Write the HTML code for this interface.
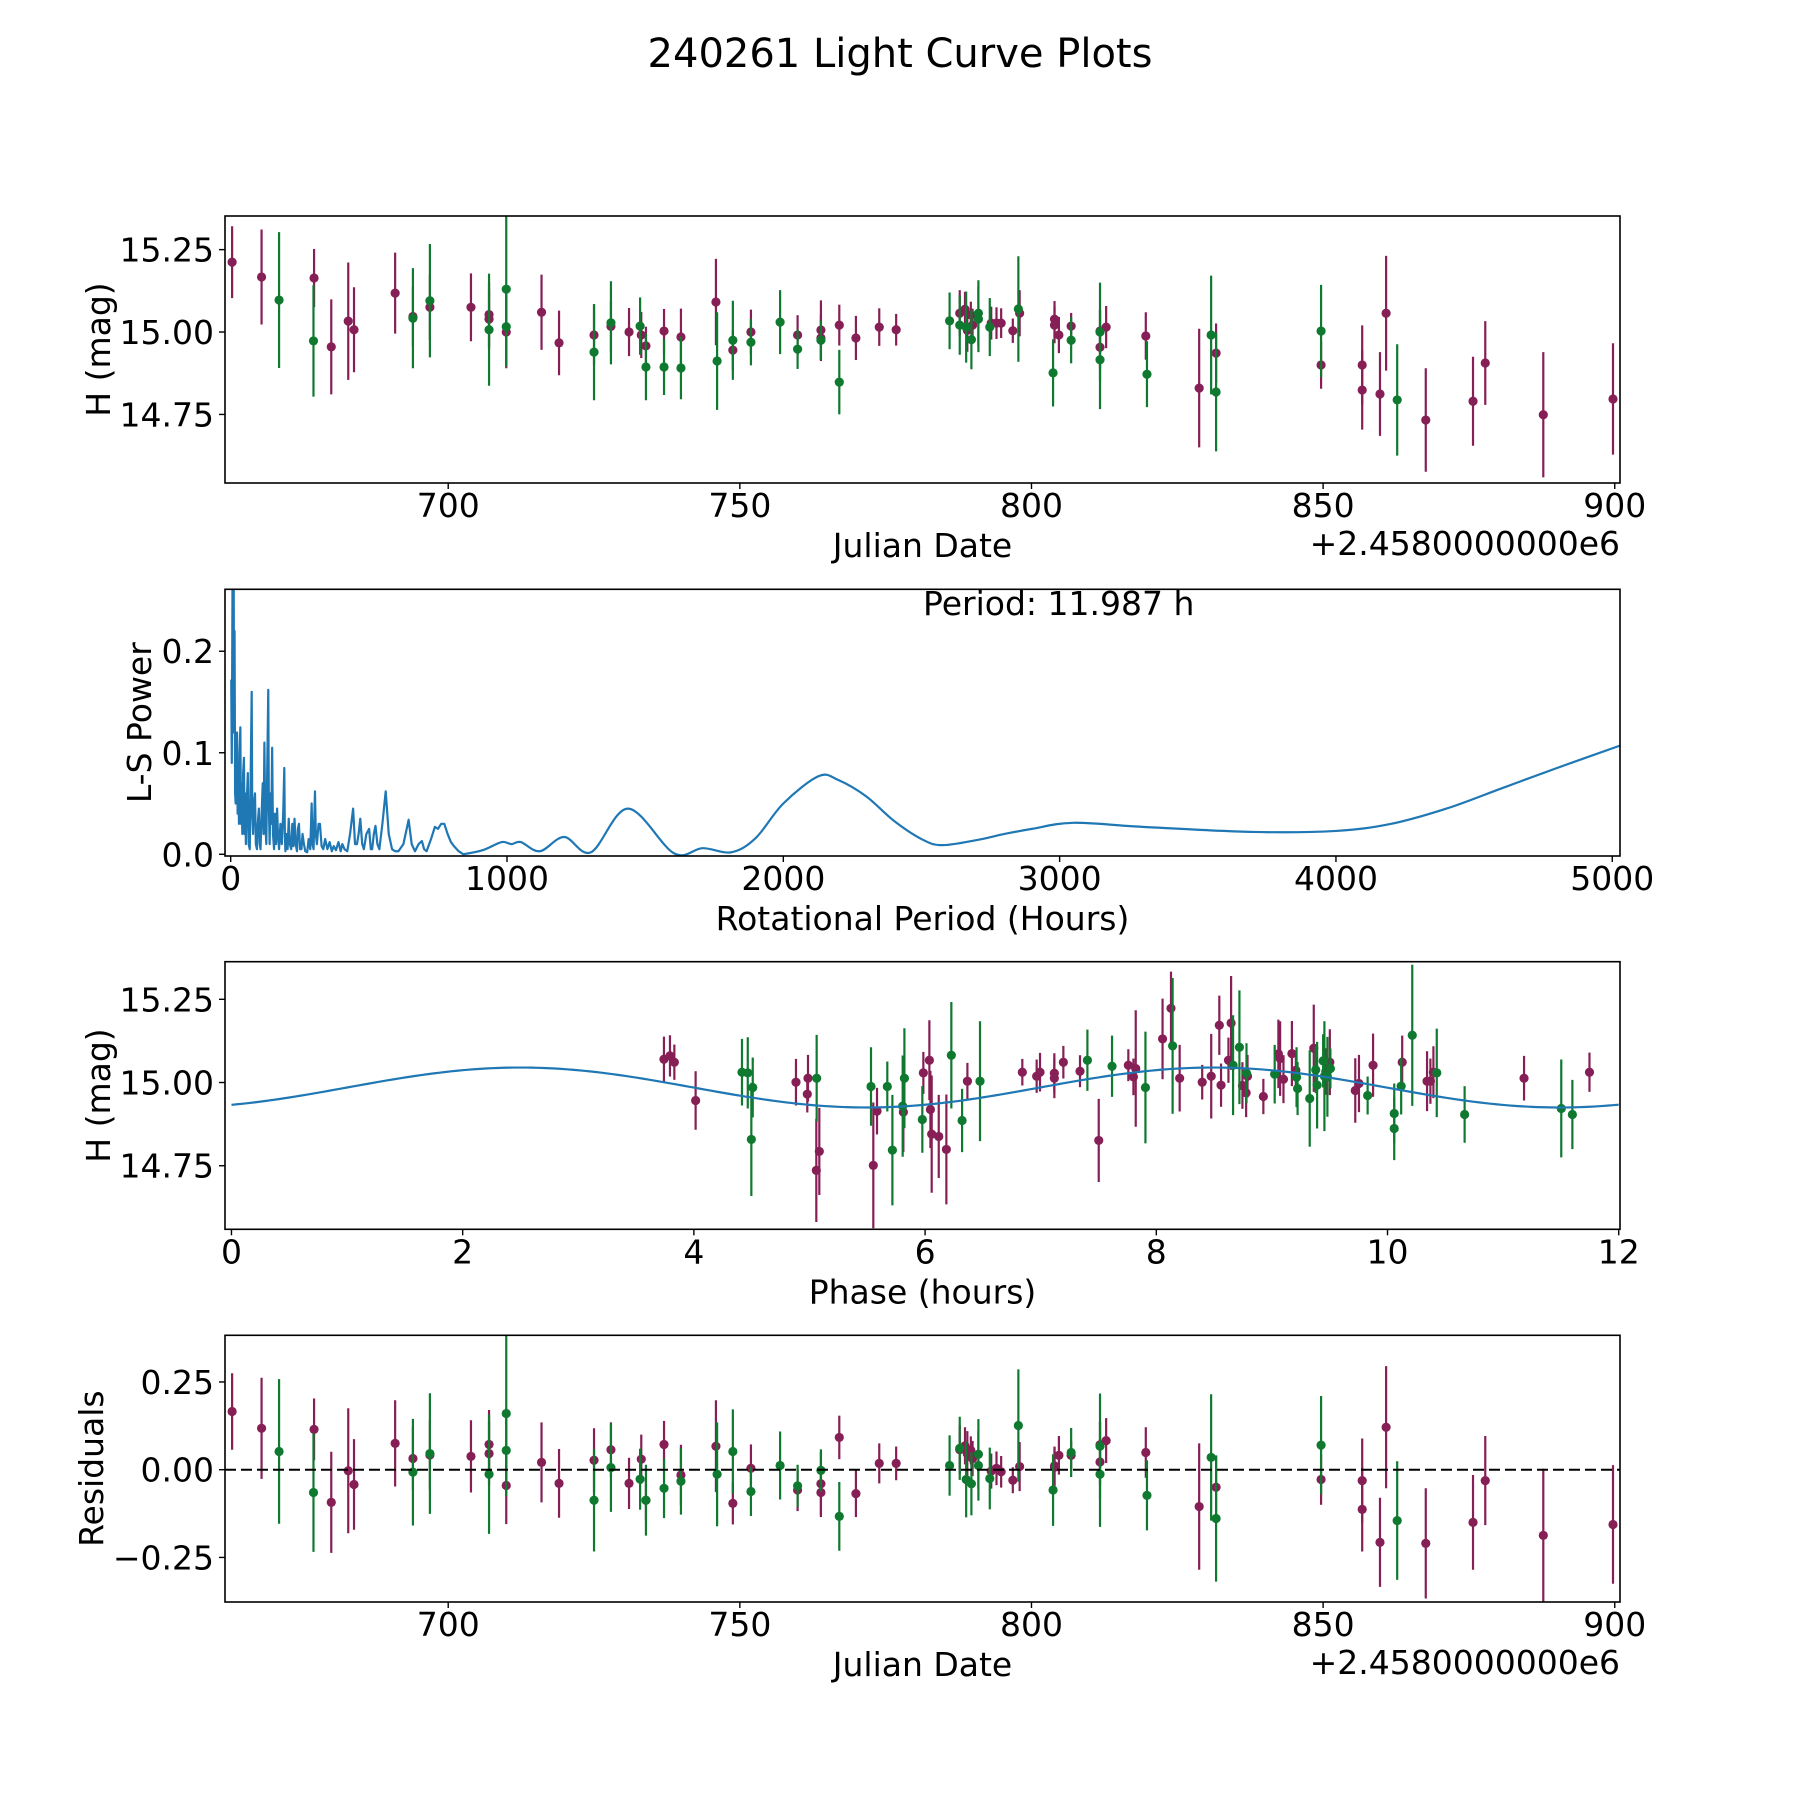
<!DOCTYPE html>
<html><head><meta charset="utf-8">
<style>
html,body{margin:0;padding:0;background:#fff;}
svg{display:block;font-family:"DejaVu Sans","Liberation Sans",sans-serif;}
</style></head>
<body>
<svg id="fig" width="1800" height="1800" viewBox="0 0 1800 1800" xmlns="http://www.w3.org/2000/svg">
<rect width="1800" height="1800" fill="#fff"/>
<text x="900" y="67" font-size="40" text-anchor="middle">240261 Light Curve Plots</text>
</svg>
<script>
// ---- Panel 1 / 4 data (Julian Date offsets from 2458000) ----
const jdP  = [662.95,668.0,677.0,679.95,682.86,683.85,690.9,693.95,696.86,703.9,707.0,707.0,709.95,716.0,719.0,725.0,727.9,731.0,733.1,733.9,737.0,739.9,745.9,748.8,751.9,759.9,763.9,763.9,767.05,769.9,773.9,776.8,787.7,788.6,789.0,789.6,789.9,793.1,794.0,794.8,796.8,797.97,803.95,803.95,804.7,806.8,811.75,811.75,812.8,819.6,828.75,831.65,849.65,856.7,856.7,859.75,860.8,867.6,875.7,877.8,887.75,899.7];
const magP = [15.212,15.167,15.164,14.955,15.033,15.007,15.118,15.047,15.075,15.075,15.053,15.039,15.0,15.060,14.967,14.991,15.017,15.0,14.991,14.958,15.003,14.985,15.091,14.945,15.0,14.991,15.006,14.982,15.021,14.982,15.015,15.007,15.057,15.069,15.005,15.052,15.021,15.027,15.027,15.027,15.004,15.057,15.039,15.021,14.991,15.018,15.003,14.954,15.015,14.988,14.83,14.936,14.9,14.9,14.824,14.812,15.057,14.733,14.79,14.906,14.749,14.797];
const errP = [0.109,0.144,0.088,0.144,0.178,0.129,0.123,0.090,0.099,0.103,0.098,0.09,0.110,0.114,0.098,0.091,0.078,0.073,0.07,0.058,0.067,0.086,0.131,0.06,0.068,0.06,0.09,0.07,0.062,0.067,0.057,0.048,0.07,0.053,0.065,0.04,0.05,0.05,0.048,0.045,0.037,0.07,0.055,0.055,0.055,0.04,0.065,0.065,0.064,0.072,0.18,0.09,0.072,0.12,0.12,0.127,0.174,0.157,0.135,0.127,0.19,0.169];
const resP = [0.166,0.118,0.115,-0.093,-0.003,-0.042,0.075,0.032,0.042,0.038,0.072,0.046,-0.045,0.021,-0.039,0.027,0.057,-0.039,0.030,-0.087,0.072,-0.015,0.067,-0.096,0.004,-0.058,-0.040,-0.065,0.092,-0.068,0.018,0.018,0.057,0.068,0.045,0.055,0.032,-0.004,0.004,-0.006,-0.030,0.009,0.011,0.007,0.041,0.041,0.071,0.022,0.083,0.049,-0.105,-0.050,-0.028,-0.031,-0.113,-0.207,0.121,-0.210,-0.150,-0.031,-0.187,-0.156];
const jdG  = [671.0,676.9,693.95,696.86,707.0,709.95,709.95,725.0,727.9,732.9,733.9,737.0,739.9,746.1,748.8,751.9,756.9,759.9,763.9,767.05,785.96,787.7,788.8,789.7,790.9,790.9,792.85,797.75,803.7,806.8,811.75,811.75,819.8,830.8,831.65,849.65,862.7];
const magG = [15.097,14.973,15.042,15.095,15.007,15.130,15.016,14.939,15.028,15.018,14.894,14.894,14.891,14.912,14.975,14.969,15.03,14.948,14.975,14.848,15.034,15.021,15.015,14.977,15.057,15.039,15.015,15.07,14.876,14.975,15.0,14.916,14.872,14.991,14.818,15.003,14.794];
const errG = [0.206,0.169,0.152,0.172,0.170,0.235,0.12,0.146,0.126,0.087,0.101,0.085,0.095,0.148,0.12,0.07,0.097,0.06,0.06,0.098,0.086,0.09,0.108,0.09,0.1,0.1,0.088,0.16,0.102,0.07,0.15,0.15,0.1,0.18,0.18,0.14,0.169];
const resG = [0.052,-0.065,-0.007,0.046,-0.013,0.160,0.055,-0.087,0.006,-0.027,-0.087,-0.053,-0.033,-0.013,0.052,-0.062,0.012,-0.046,-0.002,-0.133,0.012,0.061,-0.028,-0.040,0.044,0.012,-0.025,0.126,-0.058,0.049,0.067,-0.013,-0.073,0.035,-0.139,0.070,-0.145];

// ---- Panel 2: Lomb-Scargle periodogram ----
const lsPeriod = [2,4,7,9,11,12,14,16,18,20,23,25,27,30,32,35,37,39,42,45,48,50,52,55,58,62,65,69,72,76,78,81,84,88,91,95,98,102,105,108,112,116,119,122,125,129,132,136,138,141,144,147,150,153,157,160,164,168,171,175,180,185,190,194,196,198,202,206,210,214,219,223,227,231,235,240,243,247,251,256,260,265,270,277,282,288,293,296,300,305,308,312,318,323,329,335,342,350,358,366,373,381,390,398,404,412,422,432,443,450,457,463,469,476,482,491,501,507,512,518,524,531,538,549,561,572,584,595,607,625,644,655,667,680,692,700,709,725,739,750,762,773,785,797,808,825,842];
const lsPower  = [0.172,0.09,0.30,0.12,0.26,0.14,0.22,0.06,0.05,0.11,0.12,0.04,0.09,0.03,0.10,0.125,0.03,0.07,0.02,0.08,0.095,0.02,0.06,0.01,0.05,0.08,0.01,0.005,0.07,0.16,0.04,0.02,0.05,0.06,0.01,0.005,0.03,0.045,0.01,0.005,0.04,0.07,0.02,0.11,0.03,0.01,0.08,0.162,0.05,0.01,0.06,0.03,0.105,0.02,0.005,0.04,0.01,0.045,0.02,0.005,0.03,0.01,0.04,0.085,0.02,0.003,0.02,0.005,0.035,0.01,0.005,0.03,0.008,0.035,0.01,0.003,0.025,0.03,0.005,0.005,0.02,0.01,0.003,0.002,0.015,0.005,0.05,0.01,0.005,0.062,0.02,0.01,0.03,0.03,0.008,0.005,0.015,0.005,0.012,0.003,0.008,0.004,0.012,0.003,0.01,0.005,0.003,0.02,0.045,0.01,0.01,0.02,0.035,0.01,0.005,0.02,0.025,0.005,0.005,0.02,0.028,0.01,0.005,0.03,0.062,0.02,0.005,0.003,0.003,0.01,0.034,0.01,0.003,0.01,0.013,0.005,0.003,0.015,0.027,0.025,0.03,0.03,0.02,0.012,0.008,0.003,0.0];
const lsSmoothPeriod = [842,912,981,1016,1050,1119,1207,1304,1438,1604,1708,1812,1900,2000,2128,2200,2300,2400,2500,2573,2700,2800,2900,3049,3300,3700,4000,4200,4400,4600,4800,5028];
const lsSmoothPower  = [0.0,0.004,0.012,0.01,0.012,0.003,0.017,0.002,0.045,0.001,0.006,0.002,0.016,0.05,0.077,0.073,0.057,0.033,0.015,0.009,0.014,0.02,0.025,0.031,0.027,0.022,0.023,0.03,0.045,0.065,0.085,0.107];
const bestPeriod = ["11.987"];

// ---- Panel 3: phased light curve ----
const phP = [3.741,3.793,3.831,4.015,4.883,4.987,4.981,5.059,5.085,5.552,5.584,5.812,5.985,6.037,6.046,6.057,6.118,6.184,6.366,6.841,6.965,6.994,7.118,7.118,7.196,7.340,7.502,7.758,7.802,7.822,8.054,8.127,8.202,8.397,8.475,8.545,8.560,8.624,8.647,8.745,8.777,8.789,8.926,9.056,9.071,9.100,9.173,9.207,9.362,9.466,9.501,9.721,9.753,9.875,10.127,10.342,10.371,10.397,11.181,11.747];
const phMagP = [15.070,15.080,15.061,14.946,15.001,15.013,14.965,14.736,14.793,14.751,14.914,14.911,15.029,15.067,14.919,14.845,14.838,14.799,15.004,15.031,15.019,15.031,15.028,15.013,15.061,15.034,14.826,15.052,15.017,15.042,15.131,15.223,15.013,15.001,15.019,15.172,14.992,15.067,15.179,14.991,14.969,15.019,14.958,15.086,15.072,15.010,15.087,15.037,15.103,15.033,15.061,14.976,14.997,15.052,15.061,15.004,15.004,15.031,15.013,15.031];
const phErrP = [0.068,0.062,0.053,0.088,0.070,0.070,0.055,0.155,0.131,0.189,0.070,0.120,0.063,0.120,0.116,0.176,0.125,0.165,0.055,0.040,0.050,0.058,0.060,0.060,0.049,0.048,0.125,0.048,0.055,0.175,0.121,0.110,0.100,0.052,0.127,0.089,0.065,0.068,0.141,0.070,0.073,0.064,0.053,0.103,0.112,0.072,0.098,0.050,0.131,0.070,0.099,0.097,0.086,0.095,0.080,0.090,0.068,0.078,0.067,0.059];
const phG = [4.416,4.466,4.509,4.497,5.062,5.532,5.673,5.717,5.806,5.821,5.976,6.227,6.320,6.475,7.404,7.617,7.906,8.141,8.664,8.719,8.780,9.024,9.213,9.222,9.327,9.391,9.379,9.443,9.454,9.480,9.506,9.828,10.058,10.058,10.118,10.214,10.426,10.667,11.503,11.599];
const phMagG = [15.031,15.029,14.985,14.829,15.013,14.988,14.988,14.797,14.929,15.013,14.889,15.082,14.886,15.004,15.067,15.049,14.985,15.110,15.052,15.106,15.028,15.025,15.016,14.982,14.952,14.992,15.038,15.065,15.019,15.017,15.042,14.961,14.907,14.862,14.989,15.142,15.029,14.904,14.922,14.904];
const phErrG = [0.100,0.107,0.090,0.170,0.130,0.118,0.075,0.166,0.152,0.150,0.100,0.160,0.095,0.180,0.092,0.092,0.168,0.204,0.150,0.171,0.090,0.088,0.090,0.080,0.145,0.130,0.070,0.080,0.165,0.120,0.060,0.057,0.090,0.095,0.085,0.212,0.133,0.085,0.147,0.104];
// model: mean, amplitude, sub-period (hours), phase offset
const modelParams = [14.985, 0.06, 5.9935, 1.0];

// ---- tick labels ----
const jdTicks = [700,750,800,850,900];
const magTicks = [14.75,15.00,15.25];
const magTickLabels = ["14.75","15.00","15.25"];
const lsXTicks = [0,1000,2000,3000,4000,5000];
const lsYTicks = [0.0,0.1,0.2];
const lsYTickLabels = ["0.0","0.1","0.2"];
const phTicks = [0,2,4,6,8,10,12];
const resTicks = [-0.25,0,0.25];
const resTickLabels = ["\u22120.25","0.00","0.25"];

const NS = "http://www.w3.org/2000/svg";
const svg = document.getElementById('fig');
const PURPLE = "#861f55", GREEN = "#0f7a2f", BLUE = "#1f77b4";
const L = 225, R = 1620;

function mk(tag, attrs, parent){
  const e = document.createElementNS(NS, tag);
  for (const k in attrs) e.setAttribute(k, attrs[k]);
  (parent || svg).appendChild(e);
  return e;
}
function lin(d0,d1,r0,r1){ return v => r0 + (v-d0)/(d1-d0)*(r1-r0); }

function panel(name, top, bot, xd, yd){
  const g = mk('g', {});
  
  
  const clipId = name + '-clip';
  const cp = mk('clipPath', {id: clipId}, g);
  mk('rect', {x:L, y:top, width:R-L, height:bot-top}, cp);
  const plot = mk('g', {'clip-path':'url(#'+clipId+')'}, g);
  
  
  return {g, plot, top, bot, x: lin(xd[0],xd[1],L,R), y: lin(yd[0],yd[1],bot,top)};
}
function frame(p){
  const f = mk('rect', {x:L, y:p.top, width:R-L, height:p.bot-p.top, fill:'none', stroke:'#000', 'stroke-width':1.6}, p.g);
  
  
}
function xTicks(p, vals, labels){
  vals.forEach((v,i) => {
    const X = p.x(v);
    mk('line', {x1:X, x2:X, y1:p.bot, y2:p.bot+6, stroke:'#000', 'stroke-width':1.4}, p.g);
    const t = mk('text', {x:X, y:p.bot+34, 'font-size':33, 'text-anchor':'middle'}, p.g);
    
    
    t.textContent = labels ? labels[i] : String(v);
  });
}
function yTicks(p, vals, labels){
  vals.forEach((v,i) => {
    const Y = p.y(v);
    mk('line', {x1:L-6, x2:L, y1:Y, y2:Y, stroke:'#000', 'stroke-width':1.4}, p.g);
    const t = mk('text', {x:L-11, y:Y+12, 'font-size':33, 'text-anchor':'end'}, p.g);
    
    
    t.textContent = labels[i];
  });
}
function xLabel(p, txt){
  const t = mk('text', {x:(L+R)/2, y:p.bot+74, 'font-size':33, 'text-anchor':'middle'}, p.g);
  
  
  t.textContent = txt;
}
function yLabel(p, txt, bx){
  const cy = (p.top+p.bot)/2;
  const t = mk('text', {x:bx, y:cy, 'font-size':33, 'text-anchor':'middle', transform:'rotate(-90 '+bx+' '+cy+')'}, p.g);
  
  
  t.textContent = txt;
}
function offsetText(p){
  const t = mk('text', {x:R, y:p.bot+72, 'font-size':33, 'text-anchor':'end'}, p.g);
  
  
  t.textContent = '+2.4580000000e6';
}
function errorbars(p, xs, ys, es, color, nm){
  xs.forEach((xv,i) => {
    const X = p.x(xv), Y = p.y(ys[i]);
    const ln = mk('line', {x1:X, x2:X, y1:p.y(ys[i]-es[i]), y2:p.y(ys[i]+es[i]), stroke:color, 'stroke-width':2.2}, p.plot);
    
    
    const c = mk('circle', {cx:X, cy:Y, r:4.6, fill:color}, p.plot);
    
    
  });
}

// Panel 1
const p1 = panel('lightcurve-panel', 216, 483, [661.73, 900.9], [14.542, 15.352]);
errorbars(p1, jdP, magP, errP, PURPLE, 'purple-band');
errorbars(p1, jdG, magG, errG, GREEN, 'green-band');
frame(p1); xTicks(p1, jdTicks); yTicks(p1, magTicks, magTickLabels);
xLabel(p1, 'Julian Date'); yLabel(p1, 'H (mag)', 110); offsetText(p1);

// Panel 2
const p2 = panel('periodogram-panel', 589.3, 856, [-20.6, 5028], [-0.0017, 0.261]);
let d = '';
lsPeriod.forEach((v,i) => { d += (i ? 'L' : 'M') + p2.x(v).toFixed(2) + ' ' + p2.y(lsPower[i]).toFixed(2); });
const sp = lsSmoothPeriod.map(v => p2.x(v)), sw = lsSmoothPower.map(v => p2.y(v));
for (let i = 0; i < sp.length - 1; i++){
  const x0 = sp[Math.max(i-1,0)], y0 = sw[Math.max(i-1,0)];
  const x1 = sp[i], y1 = sw[i], x2 = sp[i+1], y2 = sw[i+1];
  const x3 = sp[Math.min(i+2,sp.length-1)], y3 = sw[Math.min(i+2,sp.length-1)];
  d += 'C' + (x1+(x2-x0)/6).toFixed(2) + ' ' + (y1+(y2-y0)/6).toFixed(2) + ' ' +
       (x2-(x3-x1)/6).toFixed(2) + ' ' + (y2-(y3-y1)/6).toFixed(2) + ' ' + x2.toFixed(2) + ' ' + y2.toFixed(2);
}
const lsLine = mk('path', {d:d, fill:'none', stroke:BLUE, 'stroke-width':2.2, 'stroke-linejoin':'round'}, p2.plot);


frame(p2); xTicks(p2, lsXTicks); yTicks(p2, lsYTicks, lsYTickLabels);
xLabel(p2, 'Rotational Period (Hours)'); yLabel(p2, 'L-S Power', 151);
const pt = mk('text', {x:923, y:615, 'font-size':33}, p2.g);


pt.textContent = 'Period: ' + bestPeriod[0] + ' h';

// Panel 3
const p3 = panel('phase-panel', 961.7, 1229.3, [-0.056, 12.011], [14.559, 15.363]);
let md = '';
for (let k = 0; k <= 240; k++){
  const ph = 12 * k / 240;
  const m = modelParams[0] + modelParams[1] * Math.sin(2*Math.PI*(ph - modelParams[3]) / modelParams[2]);
  md += (k ? 'L' : 'M') + p3.x(ph).toFixed(2) + ' ' + p3.y(m).toFixed(2);
}
errorbars(p3, phP, phMagP, phErrP, PURPLE, 'purple-phase');
errorbars(p3, phG, phMagG, phErrG, GREEN, 'green-phase');
const ml = mk('path', {d:md, fill:'none', stroke:BLUE, 'stroke-width':2.2}, p3.plot);


frame(p3); xTicks(p3, phTicks); yTicks(p3, magTicks, magTickLabels);
xLabel(p3, 'Phase (hours)'); yLabel(p3, 'H (mag)', 110);

// Panel 4
const p4 = panel('residuals-panel', 1335.3, 1602, [661.73, 900.9], [-0.377, 0.383]);
errorbars(p4, jdP, resP, errP, PURPLE, 'purple-residual');
errorbars(p4, jdG, resG, errG, GREEN, 'green-residual');
const zl = mk('line', {x1:L, x2:R, y1:p4.y(0), y2:p4.y(0), stroke:'#000', 'stroke-width':2, 'stroke-dasharray':'11 5'}, p4.plot);


frame(p4); xTicks(p4, jdTicks); yTicks(p4, resTicks, resTickLabels);
xLabel(p4, 'Julian Date'); yLabel(p4, 'Residuals', 103); offsetText(p4);
</script>
</body></html>
